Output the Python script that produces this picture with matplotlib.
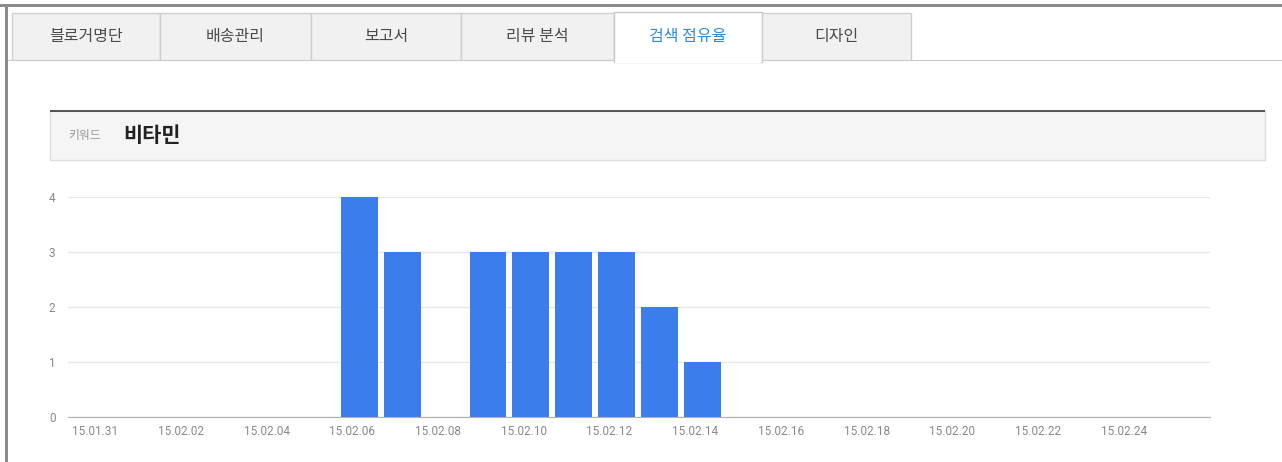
import matplotlib
matplotlib.use("Agg")
import matplotlib.pyplot as plt
import matplotlib.patches as mpatches
import matplotlib.transforms as mtransforms

plt.rcParams['font.family'] = ['Noto Sans CJK KR', 'DejaVu Sans']

# data
tabs = ['블로거명단', '배송관리', '보고서', '리뷰 분석', '검색 점유율', '디자인']
active_tab = 4
keyword = '비타민'
dates = ['15.01.31', '15.02.01', '15.02.02', '15.02.03', '15.02.04', '15.02.05',
         '15.02.06', '15.02.07', '15.02.08', '15.02.09', '15.02.10', '15.02.11',
         '15.02.12', '15.02.13', '15.02.14', '15.02.15', '15.02.16', '15.02.17',
         '15.02.18', '15.02.19', '15.02.20', '15.02.21', '15.02.22', '15.02.23',
         '15.02.24', '15.02.25']
counts = [0, 0, 0, 0, 0, 0, 4, 3, 0, 3, 3, 3, 3, 2, 1, 0, 0, 0, 0, 0, 0, 0, 0, 0, 0, 0]

W, H = 1282, 462
fig = plt.figure(figsize=(W / 100, H / 100), dpi=100)
fig.patch.set_facecolor('white')


def box(x0, y0, x1, y1, **kw):
    # pixel coords from top-left
    r = mpatches.Rectangle((x0 / W, 1 - y1 / H), (x1 - x0) / W, (y1 - y0) / H,
                           transform=fig.transFigure, **kw)
    fig.patches.append(r)


def text(x, y, s, **kw):
    fig.text(x / W, 1 - y / H, s, **kw)


# outer frame
box(0, 4, W, 7, facecolor='#8a8a8a', edgecolor='none')
box(5, 4, 8, H, facecolor='#8a8a8a', edgecolor='none')

# tabs
tab_edges = [12, 160, 311, 461, 614, 762, 911]
box(8, 60, W, 61, facecolor='#c8c8c8', edgecolor='none')
for i, name in enumerate(tabs):
    x0, x1 = tab_edges[i], tab_edges[i + 1]
    if i == active_tab:
        box(x0, 12, x1, 61.5, facecolor='white', edgecolor='#c8c8c8', lw=1)
        box(x0 + 1, 59, x1 - 1, 63, facecolor='white', edgecolor='none')
        col = '#2b8ce0'
    else:
        box(x0, 13, x1, 60, facecolor='#f1f1f1', edgecolor='#cfcfcf', lw=1)
        col = '#4a4a4a'
    text((x0 + x1) / 2, 37, name, ha='center', va='center', fontsize=11.5, color=col)

# keyword header
box(50, 111, 1265, 160, facecolor='#f5f5f5', edgecolor='#dddddd', lw=1)
box(50, 109.5, 1265, 112, facecolor='#555555', edgecolor='none')
text(68, 136, '키워드', ha='left', va='center', fontsize=8.5, color='#999999')
text(123, 136, keyword, ha='left', va='center', fontsize=15, color='#222222',
     fontweight='bold')

# chart
ax = fig.add_axes([68 / W, 1 - 417 / H, (1210 - 68) / W, (417 - 197) / H])
x = list(range(len(dates)))
ax.bar(x, counts, width=0.86, color='#3b7deb', zorder=3)
ax.set_xlim(-0.8, 25.85)
ax.set_ylim(0, 4)
ax.set_yticks([0, 1, 2, 3, 4])
ax.yaxis.grid(True, color='#e9e9e9', lw=1, zorder=0)
for s in ['top', 'right', 'left']:
    ax.spines[s].set_visible(False)
ax.spines['bottom'].set_color('#b0b0b0')
ax.spines['bottom'].set_zorder(4)
ax.set_xticks(x[::2])
ax.set_xticklabels(dates[::2])
ax.tick_params(axis='both', length=0, labelsize=8.5, labelcolor='#888888')
ax.tick_params(axis='y', pad=9)
ax.tick_params(axis='x', pad=6)
for lab in ax.get_xticklabels() + ax.get_yticklabels():
    lab.set_family(['Roboto', 'DejaVu Sans'])
offset = mtransforms.ScaledTranslation(-7 / 100, 0, fig.dpi_scale_trans)
for lab in ax.get_xticklabels():
    lab.set_transform(lab.get_transform() + offset)

fig.savefig('out.png', dpi=100)
